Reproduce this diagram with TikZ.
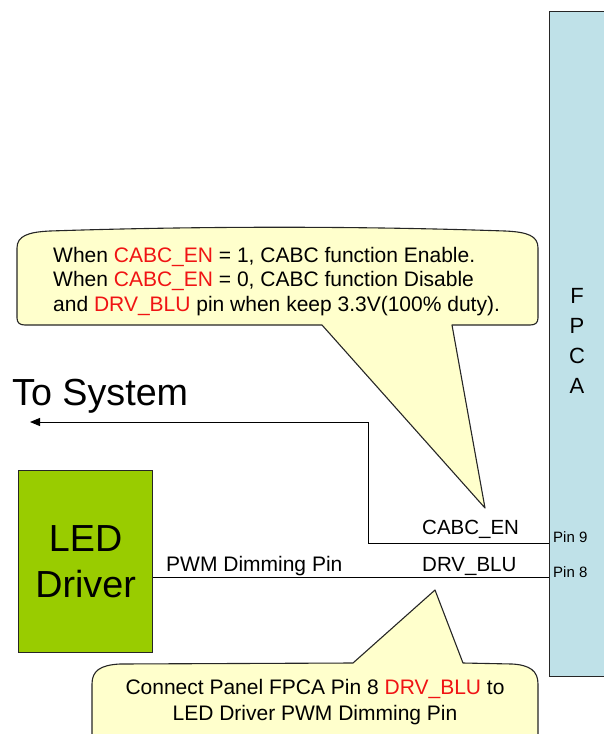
\documentclass[tikz,border=0pt]{standalone}
\usepackage{fontspec}
\setmainfont{Liberation Sans}
\usetikzlibrary{arrows.meta}
\definecolor{fpcablue}{RGB}{191,225,232}
\definecolor{ledgreen}{RGB}{153,204,0}
\definecolor{calloutyellow}{RGB}{255,255,204}
\definecolor{sigred}{RGB}{240,20,20}
\newcommand{\rdtxt}[1]{\textcolor{sigred}{#1}}
\begin{document}
\begin{tikzpicture}[x=1pt,y=-1pt,
  wire/.style={line width=1pt, draw=black},
  boxframe/.style={draw=black!85, line width=1.2pt, inner sep=0pt},
  callout/.style={draw=black!85, line width=1.1pt, fill=calloutyellow, line join=round},
  lbl/.style={inner sep=0pt, anchor=base west, font=\fontsize{20.5}{24}\selectfont},
  note/.style={inner sep=0pt, anchor=base west, font=\fontsize{21}{24.5}\selectfont},
  pinlbl/.style={inner sep=0pt, anchor=base west, font=\fontsize{15}{18}\selectfont},
  ]
\useasboundingbox (0,0) rectangle (604,734);

% FPCA connector block
\node[boxframe, fill=fpcablue, minimum width=62pt, minimum height=665pt, anchor=north west] (fpca) at (549,11) {};
\node[inner sep=0pt, align=center, font=\fontsize{22}{30}\selectfont] (fpcatext) at (577,341) {F\\P\\C\\A};

% LED driver block
\node[boxframe, fill=ledgreen, minimum width=134pt, minimum height=182pt, anchor=north west,
      align=center, font=\fontsize{37.7}{46}\selectfont] (led) at (18,470) {LED\\Driver};

% Pin coordinates
\coordinate (p9) at (549,543);
\coordinate (p8) at (549,577);
\coordinate (bendA) at (368,543);
\coordinate (bendB) at (368,422);
\coordinate (sys) at (30,422);
\coordinate (tipA) at (485,508);
\coordinate (tipB) at (435,590);

% wires
\draw[wire, -{Triangle[length=10pt,width=8pt]}] (p9) -- (bendA) -- (bendB) -- (sys);
\draw[wire] (led.east |- p8) -- (p8);

% upper callout
\draw[callout] (17,318) -- (17,248) .. controls (17,236) and (28,232) .. (50,231)
  .. controls (200,226) and (360,226) .. (505,231)
  .. controls (528,232) and (538,236) .. (538,248) -- (538,318)
  .. controls (538,323) and (535,325) .. (530,325) -- (452,325) -- (tipA) -- (322,325)
  -- (25,325) .. controls (20,325) and (17,323) .. (17,318) -- cycle;
\node[note] (n1) at (53,262) {When \rdtxt{CABC\_EN} = 1, CABC function Enable.};
\node[note] (n2) at (53,286) {When \rdtxt{CABC\_EN} = 0, CABC function Disable};
\node[note] (n3) at (53,311) {and \rdtxt{DRV\_BLU} pin when keep 3.3V(100\% duty).};

% lower callout
\draw[callout] (92,750) -- (92,684) .. controls (92,671) and (100,665) .. (120,664)
  -- (353,663) -- (tipB) -- (463,663) -- (512,664)
  .. controls (530,665) and (538,671) .. (538,684) -- (538,750);
\node[note, anchor=base] (m1) at (315,694) {Connect Panel FPCA Pin 8 \rdtxt{DRV\_BLU} to};
\node[note, anchor=base] (m2) at (315,720) {LED Driver PWM Dimming Pin};

% labels
\node[inner sep=0pt, anchor=base west, font=\fontsize{37.7}{44}\selectfont] (tosys) at (12,405) {To System};
\node[lbl] (cabc) at (422,534) {CABC\_EN};
\node[lbl] (drv) at (422,571) {DRV\_BLU};
\node[lbl, font=\fontsize{21}{24}\selectfont] (pwm) at (166,571) {PWM Dimming Pin};
\node[pinlbl] (pin9) at (553,542) {Pin 9};
\node[pinlbl] (pin8) at (553,577) {Pin 8};
\end{tikzpicture}
\end{document}
